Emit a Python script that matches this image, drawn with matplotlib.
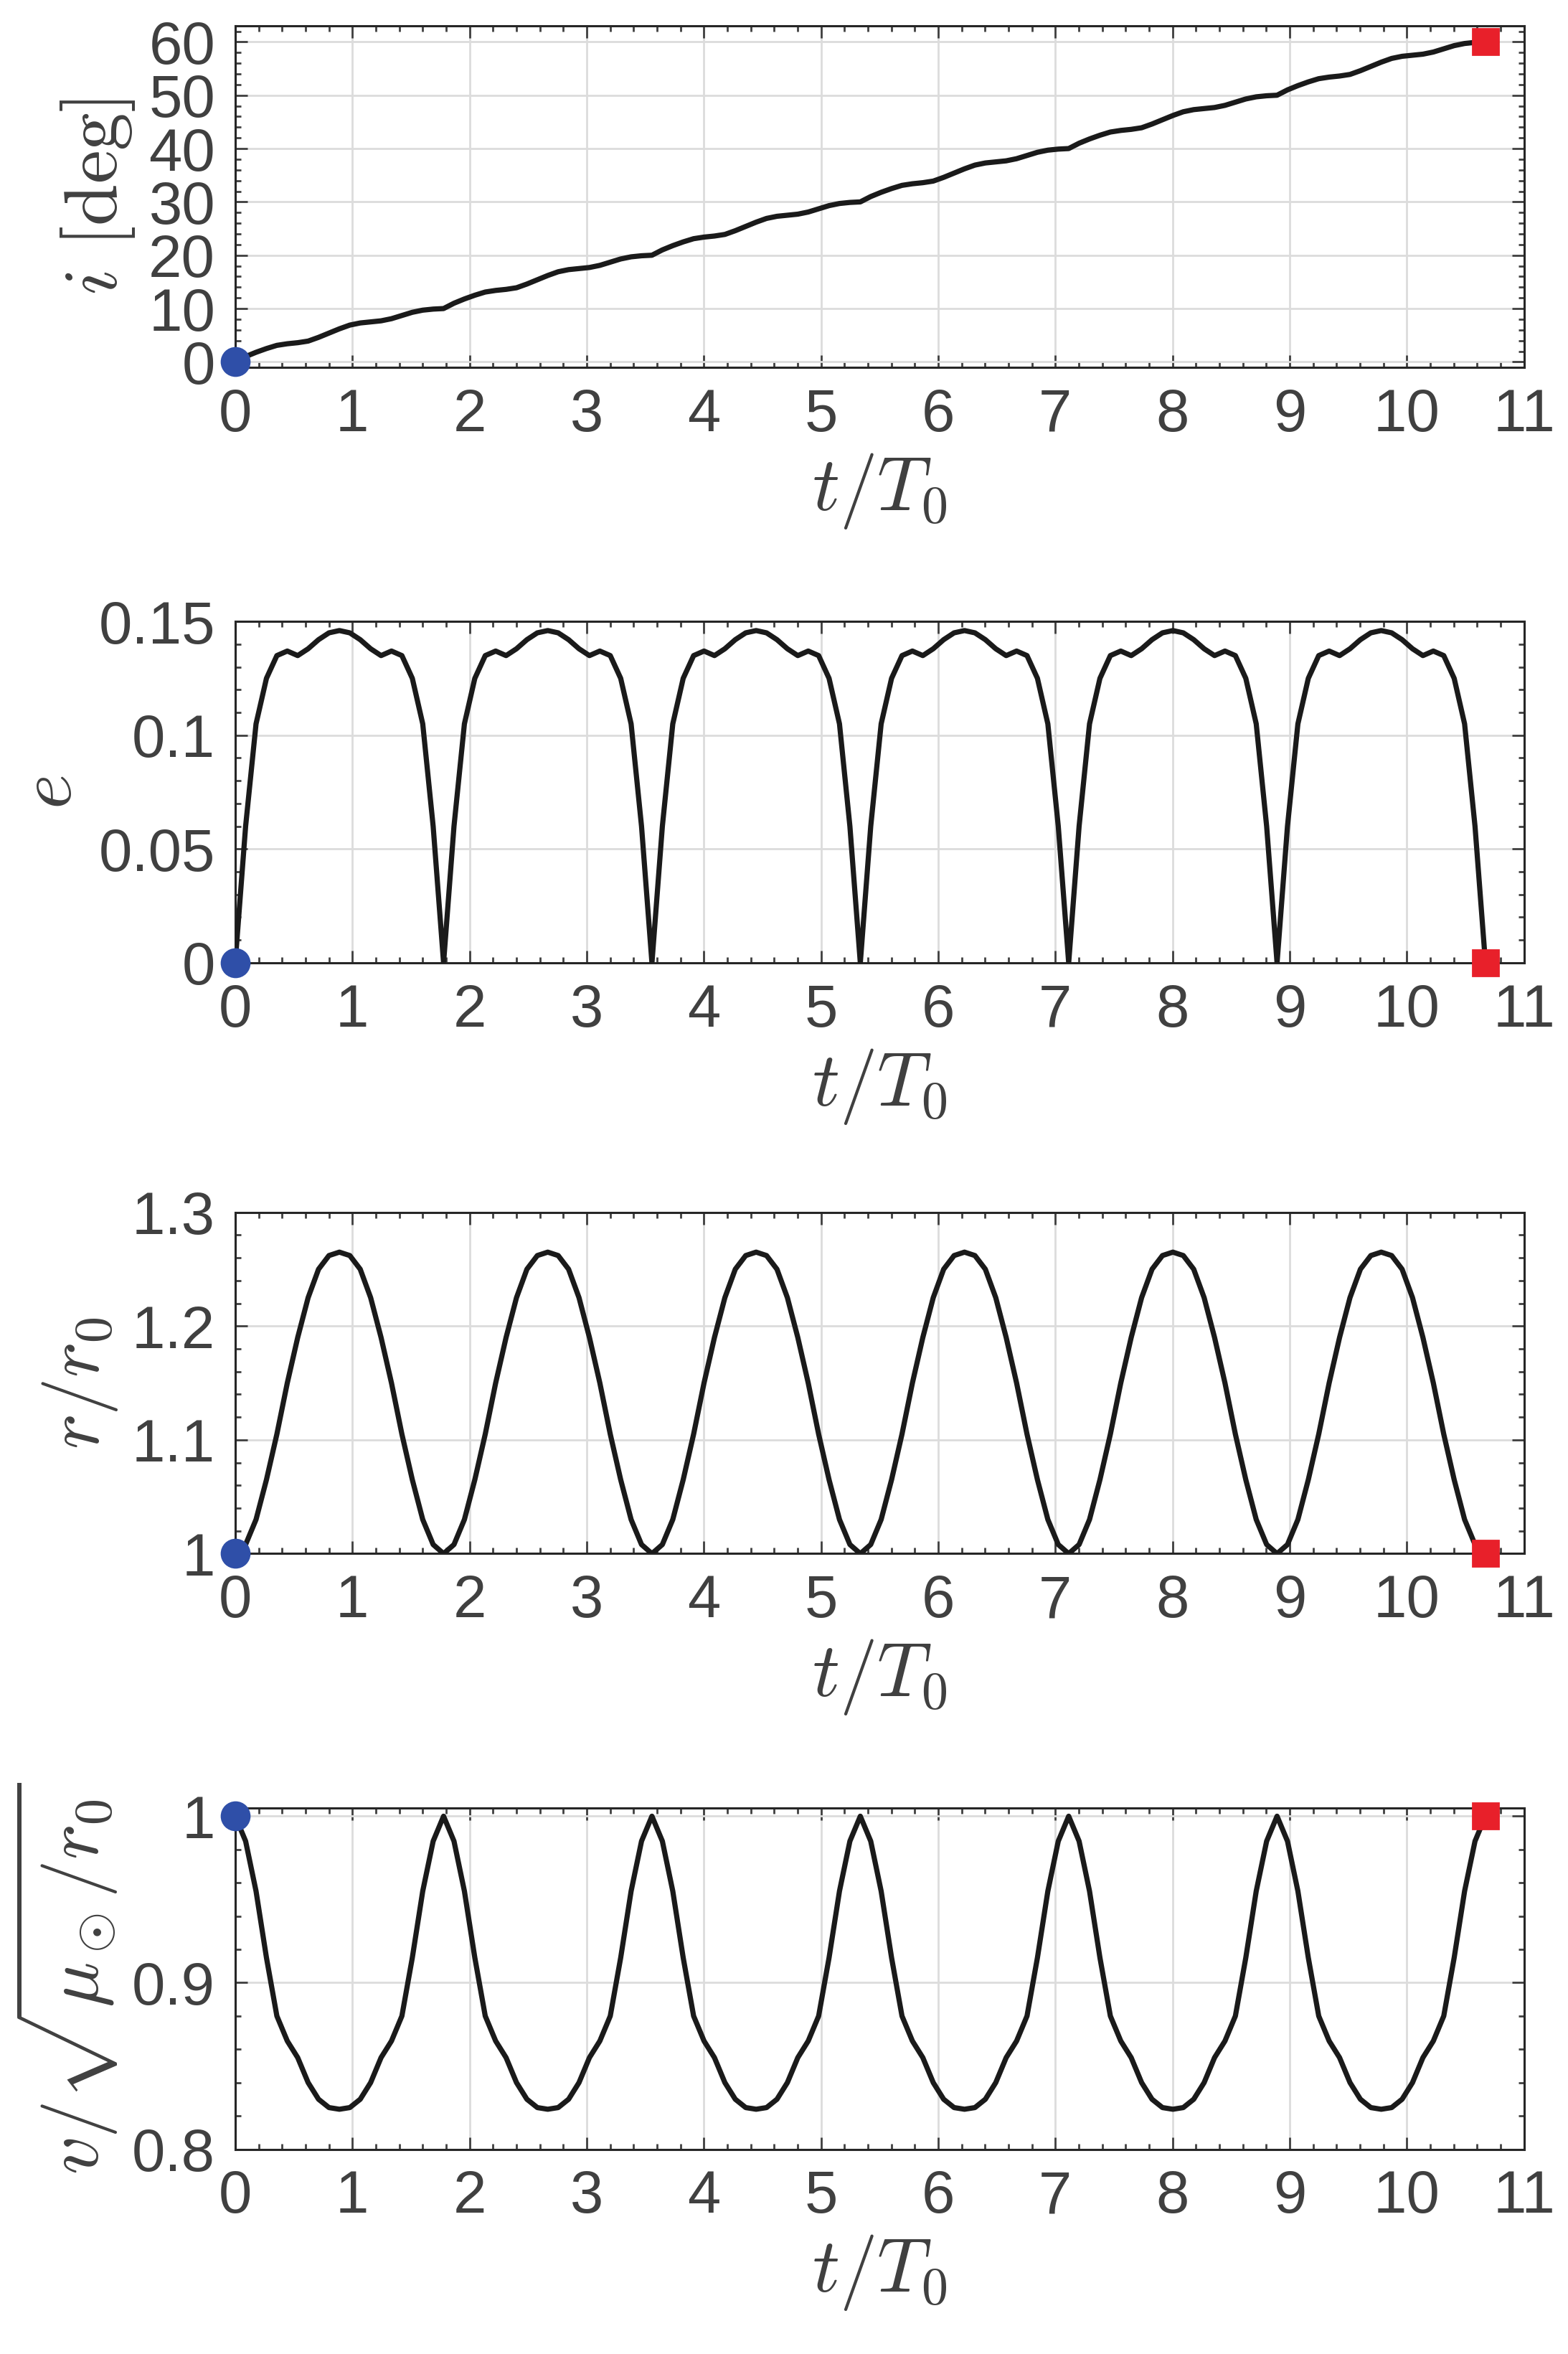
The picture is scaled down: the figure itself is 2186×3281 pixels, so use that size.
import numpy as np
import matplotlib
matplotlib.use("Agg")
import matplotlib.pyplot as plt
from matplotlib.ticker import AutoMinorLocator

plt.rcParams['font.family'] = ['Liberation Sans', 'DejaVu Sans']
plt.rcParams['mathtext.fontset'] = 'cm'

# one period (21 samples, period = t_end / 6)
t_end = 10.67
n_periods = 6
incl_period = [0, 1.0, 1.8, 2.5, 3.1, 3.4, 3.6, 3.9, 4.6, 5.4, 6.2,
               6.9, 7.3, 7.5, 7.7, 8.1, 8.7, 9.3, 9.7, 9.9, 10.0]
ecc_half = [0, 0.06, 0.105, 0.125, 0.135, 0.137, 0.135, 0.138, 0.142, 0.145, 0.146]
rad_half = [1.0, 1.008, 1.03, 1.065, 1.105, 1.15, 1.19, 1.225, 1.25, 1.262, 1.265]
vel_half = [1.0, 0.985, 0.955, 0.915, 0.88, 0.865, 0.855, 0.84, 0.83, 0.825, 0.824]


def full_series(period_vals, step=0.0):
    out = [period_vals[0]]
    for p in range(n_periods):
        out += [v + step * p for v in period_vals[1:]]
    return np.array(out)


def mirror(half):
    return half + half[-2::-1]


incl = full_series(incl_period, 10.0)
ecc = full_series(mirror(ecc_half))
rad = full_series(mirror(rad_half))
vel = full_series(mirror(vel_half))
t = np.linspace(0, t_end, len(ecc))

panels = [
    (incl, r'$i\ [\mathrm{deg}]$', (-1, 63), [0, 10, 20, 30, 40, 50, 60], None),
    (ecc, r'$e$', (0, 0.15), [0, 0.05, 0.1, 0.15], ['0', '0.05', '0.1', '0.15']),
    (rad, r'$r/r_0$', (1, 1.3), [1, 1.1, 1.2, 1.3], ['1', '1.1', '1.2', '1.3']),
    (vel, r'$v/\sqrt{\mu_\odot/r_0}$', (0.8, 1.005), [0.8, 0.9, 1.0], ['0.8', '0.9', '1']),
]
bottoms = [0.844, 0.591, 0.340, 0.087]

fig = plt.figure(figsize=(10.93, 16.405), dpi=200)
tc = '#404040'
for (y, lab, ylim, yt, ytl), b in zip(panels, bottoms):
    ax = fig.add_axes([0.150, b, 0.822, 0.145])
    ax.plot(t, y, color='#1a1a1a', lw=2.6, zorder=3)
    ax.plot(t[0], y[0], 'o', color='#2f4fa8', ms=14, zorder=4, clip_on=False)
    ax.plot(t[-1], y[-1], 's', color='#e8202a', ms=13, zorder=4, clip_on=False)
    ax.set_xlim(0, 11)
    ax.set_ylim(*ylim)
    ax.set_xticks(range(12))
    ax.set_yticks(yt)
    if ytl:
        ax.set_yticklabels(ytl)
    ax.xaxis.set_minor_locator(AutoMinorLocator(5))
    ax.yaxis.set_minor_locator(AutoMinorLocator(5))
    ax.grid(True, color='#dcdcdc', lw=1.0)
    ax.tick_params(which='both', direction='in', top=True, right=True,
                   labelsize=30, colors=tc, labelcolor=tc, width=1.0)
    ax.tick_params(which='major', length=6, pad=10)
    ax.tick_params(which='minor', length=3)
    for s in ax.spines.values():
        s.set_color('#262626')
        s.set_linewidth(1.1)
    ax.set_xlabel(r'$t/T_0$', fontsize=38, color=tc, labelpad=4)
    ax.set_ylabel(lab, fontsize=38, color=tc, labelpad=6)

fig.savefig('out.png', dpi=200, facecolor='white')
